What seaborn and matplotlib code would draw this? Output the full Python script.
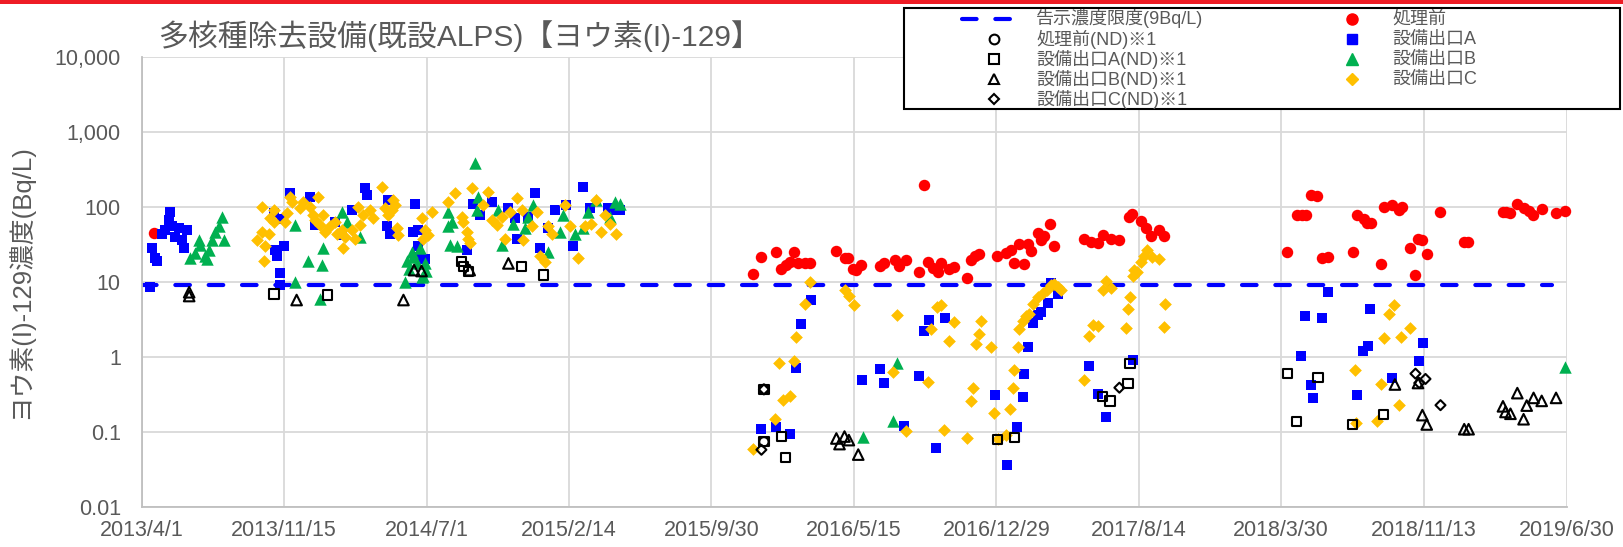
import matplotlib
matplotlib.use("Agg")
import matplotlib.pyplot as plt
from matplotlib.lines import Line2D
from matplotlib.patches import Rectangle
from matplotlib.ticker import NullLocator
import pandas as pd
import seaborn as sns

# sampling dates are stored as days after the first x tick (2013/4/1)
START = "2013-04-01"

tick_dates = ["2013-04-01", "2013-11-15", "2014-07-01", "2015-02-14", "2015-09-30", "2016-05-15",
              "2016-12-29", "2017-08-14", "2018-03-30", "2018-11-13", "2019-06-30"]
tick_labels = ["2013/4/1", "2013/11/15", "2014/7/1", "2015/2/14", "2015/9/30", "2016/5/15",
               "2016/12/29", "2017/8/14", "2018/3/30", "2018/11/13", "2019/6/30"]
y_ticks = [0.01, 0.1, 1, 10, 100, 1000, 10000]
y_tick_labels = ["0.01", "0.1", "1", "10", "100", "1,000", "10,000"]

limit_dates = ["2013-04-01", "2019-06-06"]
limit_values = [9, 9]

# 処理前
pre_days = [20, 979, 992, 1015, 1024, 1032, 1037, 1044, 1051, 1061,
            1069, 1112, 1125, 1131, 1139, 1144, 1152, 1182, 1188, 1206,
            1212, 1223, 1244, 1252, 1258, 1267, 1274, 1280, 1292, 1300,
            1321, 1327, 1334, 1341, 1369, 1384, 1392, 1397, 1404, 1412,
            1419, 1424, 1435, 1440, 1445, 1454, 1461, 1509, 1520, 1531,
            1539, 1552, 1565, 1580, 1586, 1599, 1608, 1616, 1629, 1637,
            1834, 1850, 1858, 1863, 1871, 1882, 1890, 1899, 1939, 1945,
            1956, 1962, 1967, 1984, 1989, 2002, 2013, 2017, 2030, 2039,
            2043, 2050, 2057, 2079, 2117, 2123, 2179, 2184, 2191, 2202,
            2213, 2220, 2227, 2241, 2264, 2279]
pre_vals = [45, 12.6, 21.8, 25.5, 14.7, 16.8, 18.7, 24.8, 17.7, 18,
            18, 26, 21, 21, 15, 14.4, 16.8, 16.5, 17.7, 19.7,
            16.5, 19.7, 13.7, 194, 18.6, 15.2, 13.7, 18, 15, 16,
            11.3, 19.5, 22.5, 23.5, 22.5, 24.6, 26.7, 17.7, 32.6, 17.4,
            32.6, 26, 44.5, 36, 41, 59, 30, 38, 34.5, 33,
            42, 38, 36, 73, 81, 66, 52, 41, 49, 41,
            25, 78, 78, 78, 145, 139, 20.6, 21.7, 25.3, 79,
            70, 61, 61, 17.3, 101, 105, 90, 101, 28.5, 12.4,
            37, 36, 23.7, 86, 33.7, 34.3, 87, 87, 84, 108,
            98, 88, 78, 95, 84, 88]

# 設備出口A
a_days = [13, 16, 21, 24, 32, 37, 43, 45, 48, 53,
          59, 64, 67, 72, 211, 213, 216, 221, 221, 224,
          227, 237, 269, 277, 309, 320, 336, 357, 360, 392,
          395, 397, 435, 437, 443, 443, 443, 453, 520, 531,
          541, 560, 587, 597, 600, 619, 629, 637, 651, 661,
          680, 691, 706, 717, 747, 760, 765, 992, 1015, 1038,
          1047, 1056, 1072, 1153, 1182, 1189, 1221, 1244, 1252, 1261,
          1271, 1286, 1366, 1385, 1401, 1410, 1413, 1419, 1426, 1435,
          1440, 1451, 1456, 1467, 1516, 1531, 1543, 1587, 1855, 1862,
          1871, 1875, 1889, 1899, 1945, 1955, 1963, 1966, 2001, 2045,
          2051]
a_vals = [8.7, 28, 21, 19, 44, 49, 67, 87, 55, 40,
          52, 36, 28, 49, 82, 27, 22, 13, 9, 70,
          30, 152, 137, 58, 64, 42, 91, 177, 145, 55,
          123, 44, 47, 111, 30, 49, 21.6, 20, 27, 111,
          78, 117, 96, 71, 38, 74, 152, 28, 52, 91,
          106, 30, 187, 96, 96, 91, 91, 0.11, 0.118, 0.094,
          0.71, 2.75, 5.7, 0.5, 0.7, 0.45, 0.12, 0.56, 2.2, 3.1,
          0.062, 3.3, 0.31, 0.036, 0.115, 0.29, 0.59, 1.35, 2.8, 3.6,
          4.0, 5.3, 9.6, 7.0, 0.76, 0.32, 0.16, 0.91, 1.04, 3.5,
          0.42, 0.285, 3.3, 7.3, 0.31, 1.19, 1.41, 4.3, 0.53, 0.89,
          1.53]

# 設備出口B
b_days = [77, 85, 91, 93, 101, 104, 107, 112, 117, 123,
          128, 131, 245, 245, 267, 285, 288, 291, 320, 328,
          349, 421, 424, 428, 432, 435, 440, 445, 448, 451,
          453, 455, 491, 491, 493, 496, 504, 533, 536, 539,
          571, 576, 595, 613, 619, 627, 651, 669, 675, 693,
          707, 715, 728, 749, 757, 765, 1154, 1202, 1209, 2279]
b_vals = [21, 24, 36, 31, 22, 20, 27, 36, 47, 55,
          74, 36, 57, 10, 19, 6, 17, 28, 86, 64,
          40, 10, 19, 15, 25, 21.6, 17.7, 28, 11.8, 12,
          17.7, 14, 87, 55, 31, 64, 30, 382, 91, 137,
          91, 31, 60, 52, 74, 106, 25, 47, 78, 44,
          52, 87, 123, 74, 117, 111, 0.085, 0.14, 0.83, 0.74]

# 設備出口C
c_days = [184, 192, 192, 195, 197, 203, 205, 211, 211, 229,
          232, 237, 240, 253, 259, 269, 275, 277, 283, 285,
          291, 293, 301, 309, 312, 320, 323, 325, 336, 341,
          347, 349, 355, 365, 371, 384, 389, 395, 400, 403,
          405, 408, 411, 448, 451, 453, 459, 464, 491, 501,
          512, 515, 520, 523, 525, 528, 547, 555, 560, 568,
          576, 581, 589, 600, 608, 611, 624, 632, 637, 645,
          651, 656, 677, 685, 699, 709, 720, 728, 736, 741,
          749, 760, 978, 1013, 1020, 1027, 1037, 1044, 1048, 1061,
          1069, 1125, 1133, 1140, 1203, 1209, 1223, 1258, 1264, 1273,
          1280, 1285, 1292, 1300, 1321, 1327, 1330, 1335, 1340, 1343,
          1359, 1365, 1371, 1384, 1390, 1395, 1397, 1403, 1405, 1410,
          1416, 1421, 1426, 1435, 1443, 1449, 1456, 1461, 1467, 1472,
          1509, 1517, 1523, 1531, 1538, 1544, 1552, 1575, 1579, 1582,
          1587, 1589, 1593, 1599, 1605, 1610, 1617, 1629, 1636, 1638,
          1942, 1944, 1977, 1983, 1988, 1997, 2005, 2012, 2016, 2030]
c_vals = [36, 100, 47, 19, 30, 43, 71, 91, 63, 64,
          82, 137, 117, 96, 117, 101, 78, 67, 137, 58,
          78, 47, 55, 64, 44, 49, 28, 40, 49, 38,
          100, 58, 78, 91, 71, 186, 96, 78, 91, 123,
          106, 52, 42, 71, 38, 49, 42, 87, 117, 152,
          74, 64, 47, 38, 33, 177, 106, 160, 67, 57,
          74, 38, 87, 130, 91, 36, 55, 87, 22, 18.7,
          55, 44, 106, 55, 21, 55, 60, 123, 47, 78,
          60, 44, 0.06, 0.15, 0.84, 0.27, 0.3, 0.88, 1.87, 5.1,
          9.9, 7.8, 6.5, 5, 0.64, 3.65, 0.103, 0.46, 2.35, 4.7,
          4.96, 0.106, 1.65, 2.9, 0.082, 0.26, 0.39, 1.5, 2.0, 3.06,
          1.37, 0.18, 0.08, 0.09, 0.2, 0.39, 0.67, 1.37, 2.34, 3.05,
          3.5, 3.8, 5.1, 6.4, 7.1, 7.9, 9.1, 9.4, 8.6, 7.9,
          0.5, 1.9, 2.67, 2.62, 7.8, 10.4, 8.2, 2.4, 4.3, 6.4,
          12, 14.4, 13.7, 18.6, 22, 26.6, 21.6, 20, 2.55, 5.1,
          0.68, 0.13, 0.14, 0.44, 1.79, 3.7, 4.95, 0.228, 1.84, 2.47]

# ND (detection limit) points
nd_pre_days = [996, 996]
nd_pre_vals = [0.37, 0.074]

nd_a_days = [212, 297, 512, 515, 523, 608, 643, 996, 996, 1024,
             1031, 1370, 1397, 1538, 1550, 1579, 1582, 1834, 1848, 1883,
             1938, 1988]
nd_a_vals = [6.9, 6.7, 18.7, 16, 13.7, 16, 12.4, 0.37, 0.074, 0.088,
             0.046, 0.08, 0.085, 0.3, 0.26, 0.44, 0.82, 0.6, 0.137, 0.53,
             0.126, 0.17]

nd_b_days = [76, 76, 248, 419, 436, 448, 525, 587, 1112, 1117,
             1125, 1132, 1147, 2006, 2043, 2050, 2057, 2117, 2124, 2179,
             2183, 2191, 2202, 2212, 2217, 2228, 2241, 2264]
nd_b_vals = [6.5, 7.3, 5.75, 5.75, 14.4, 14, 14.4, 17.7, 0.082, 0.069,
             0.087, 0.078, 0.05, 0.43, 0.45, 0.168, 0.126, 0.109, 0.109, 0.22,
             0.185, 0.175, 0.33, 0.148, 0.225, 0.285, 0.26, 0.285]

nd_c_days = [992, 996, 1565, 2039, 2045, 2055, 2079]
nd_c_vals = [0.058, 0.37, 0.39, 0.6, 0.45, 0.51, 0.228]

TEXT = "#595959"
RED, BLUE, GREEN, ORANGE = "#FF0000", "#0000FF", "#00B050", "#FFC000"
W, H = 1623, 547


def to_dates(days):
    return pd.Timestamp(START) + pd.to_timedelta(days, unit="D")


def fx(px):
    return px / W


def fy(px):
    return 1 - px / H


sns.set_style("white")
plt.rcParams["font.family"] = ["Liberation Sans", "Noto Sans CJK JP"]

fig = plt.figure(figsize=(W / 100, H / 100), dpi=100)
ax = fig.add_axes([0.0873, 0.0731, 0.8780, 0.8227])

ax.plot(pd.to_datetime(limit_dates), limit_values, color=BLUE, lw=3,
        dashes=(3.5, 4.5), dash_capstyle="round", zorder=2)

filled = [
    (pre_days, pre_vals, "o", RED, 68),
    (a_days, a_vals, "s", BLUE, 58),
    (b_days, b_vals, "^", GREEN, 80),
    (c_days, c_vals, "D", ORANGE, 42),
]
for days, vals, marker, color, size in filled:
    sns.scatterplot(x=to_dates(days), y=vals, marker=marker, color=color, s=size,
                    linewidth=0, ax=ax, zorder=3, clip_on=False)

hollow = [
    (nd_pre_days, nd_pre_vals, "o", 45),
    (nd_a_days, nd_a_vals, "s", 45),
    (nd_b_days, nd_b_vals, "^", 58),
    (nd_c_days, nd_c_vals, "D", 26),
]
for days, vals, marker, size in hollow:
    sns.scatterplot(x=to_dates(days), y=vals, marker=marker, s=size, facecolor="none",
                    edgecolor="black", linewidth=1.5, ax=ax, zorder=4, clip_on=False)

ax.set_yscale("log")
ax.set_ylim(0.01, 10000)
ax.set_yticks(y_ticks, y_tick_labels)
ax.yaxis.set_minor_locator(NullLocator())
ax.set_xticks(pd.to_datetime(tick_dates), tick_labels)
ax.set_xlim(pd.Timestamp(tick_dates[0]), pd.Timestamp(tick_dates[-1]))

ax.grid(True, color="#D9D9D9", lw=1.3)
ax.set_axisbelow(True)
for side in ["top", "right"]:
    ax.spines[side].set_visible(False)
for side in ["left", "bottom"]:
    ax.spines[side].set_color("#BFBFBF")
    ax.spines[side].set_linewidth(1.3)
ax.tick_params(axis="both", length=0, labelsize=15.5, labelcolor=TEXT)
ax.tick_params(axis="x", pad=9)
ax.tick_params(axis="y", pad=15)
ax.set_xlabel("")
ax.set_ylabel("ヨウ素(I)-129濃度(Bq/L)", fontsize=18.5, color=TEXT)
ax.yaxis.set_label_coords(-0.076, 0.5)

fig.text(fx(158), fy(36), "多核種除去設備(既設ALPS)【ヨウ素(I)-129】",
         fontsize=21.5, color=TEXT, va="center", ha="left")

# red band at the very top
fig.patches.append(Rectangle((0, fy(4)), 1, 4 / H, transform=fig.transFigure,
                             facecolor="#EE1C25", edgecolor="none"))

# legend box, laid out in two fixed columns like the original
fig.patches.append(Rectangle((fx(904), fy(109)), 716 / W, 101 / H, transform=fig.transFigure,
                             facecolor="white", edgecolor="black", lw=1.5, zorder=5))
row_y = [19, 39, 59, 79, 99]
left_entries = [
    ("告示濃度限度(9Bq/L)", None, None, None),
    ("処理前(ND)※1", "o", 7, None),
    ("設備出口A(ND)※1", "s", 7, None),
    ("設備出口B(ND)※1", "^", 7.5, None),
    ("設備出口C(ND)※1", "D", 5.5, None),
]
right_entries = [
    ("処理前", "o", 8, RED),
    ("設備出口A", "s", 7.5, BLUE),
    ("設備出口B", "^", 9, GREEN),
    ("設備出口C", "D", 6.5, ORANGE),
]
for (label, marker, ms, color), y in zip(left_entries, row_y):
    if marker is None:
        fig.add_artist(Line2D([fx(962), fx(1013)], [fy(y), fy(y)], transform=fig.transFigure,
                              color=BLUE, lw=3, dashes=(3.5, 4.5), dash_capstyle="round",
                              zorder=6))
    else:
        fig.add_artist(Line2D([fx(994)], [fy(y)], transform=fig.transFigure, marker=marker,
                              ms=ms, mfc="none", mec="black", mew=1.5, ls="none", zorder=6))
    fig.text(fx(1036), fy(y), label, fontsize=13, color=TEXT, va="center", ha="left", zorder=6)
for (label, marker, ms, color), y in zip(right_entries, row_y):
    fig.add_artist(Line2D([fx(1352)], [fy(y)], transform=fig.transFigure, marker=marker,
                          ms=ms, color=color, ls="none", zorder=6))
    fig.text(fx(1392), fy(y), label, fontsize=13, color=TEXT, va="center", ha="left", zorder=6)

fig.savefig("out.png", dpi=100)
